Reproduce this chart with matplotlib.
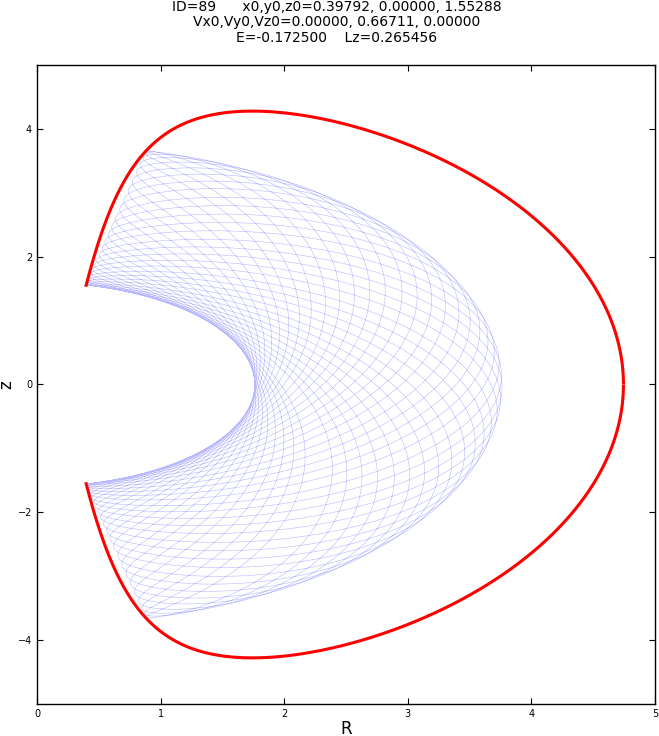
import numpy as np
import matplotlib
matplotlib.use('Agg')
import matplotlib.pyplot as plt

# orbit parameters (from the title)
orbit_id = 89
x0, y0, z0 = 0.39792, 0.00000, 1.55288
vx0, vy0, vz0 = 0.00000, 0.66711, 0.00000
E = -0.172500
Lz = 0.265456

# flattened Hernquist-like potential, G=M=a=1
q = 1.05
t_end = 1000.0
dt = 0.01


def accel(R, z):
    m = np.sqrt(R * R + z * z / (q * q))
    f = 1.0 / (m * (1.0 + m) ** 2)
    return -R * f + Lz * Lz / R ** 3, -z * f / (q * q)


# leapfrog in the meridional plane
n = int(t_end / dt)
Rs = np.empty(n)
zs = np.empty(n)
R, z, vR, vz = x0, z0, vx0, vz0
aR, az = accel(R, z)
for i in range(n):
    vR += 0.5 * dt * aR
    vz += 0.5 * dt * az
    R += dt * vR
    z += dt * vz
    aR, az = accel(R, z)
    vR += 0.5 * dt * aR
    vz += 0.5 * dt * az
    Rs[i] = R
    zs[i] = z

# zero velocity curve
Rg = np.arange(x0, 5.0, 0.001)
phi = E - Lz ** 2 / (2 * Rg ** 2)
mg = -1.0 / phi - 1.0
ok = mg ** 2 - Rg ** 2 > 0
Rg = Rg[ok]
zg = q * np.sqrt(mg[ok] ** 2 - Rg ** 2)

fig = plt.figure(figsize=(6.59, 7.36), dpi=100)
ax = fig.add_axes([0.0561, 0.0435, 0.9378, 0.8682])
ax.plot(Rs, zs, color='blue', lw=0.4, alpha=0.28)
ax.plot(Rg, zg, color='red', lw=2.2)
ax.plot(Rg, -zg, color='red', lw=2.2)

ax.set_xlim(0, 5)
ax.set_ylim(-5, 5)
ax.set_xticks([0, 1, 2, 3, 4, 5])
ax.set_yticks([-4, -2, 0, 2, 4])
ax.tick_params(direction='in', top=True, right=True, labelsize=7, length=4)
for s in ax.spines.values():
    s.set_linewidth(1.0)
ax.set_xlabel('R', fontsize=12, labelpad=1)
ax.set_ylabel('z', fontsize=12, labelpad=2)

title = ('ID=%d      x0,y0,z0=%.5f, %.5f, %.5f\nVx0,Vy0,Vz0=%.5f, %.5f, %.5f\nE=%.6f    Lz=%.6f'
         % (orbit_id, x0, y0, z0, vx0, vy0, vz0, E, Lz))
fig.text(0.5114, 0.9995, title, ha='center', va='top', fontsize=10, linespacing=1.1)

fig.savefig('out.png', dpi=100)
